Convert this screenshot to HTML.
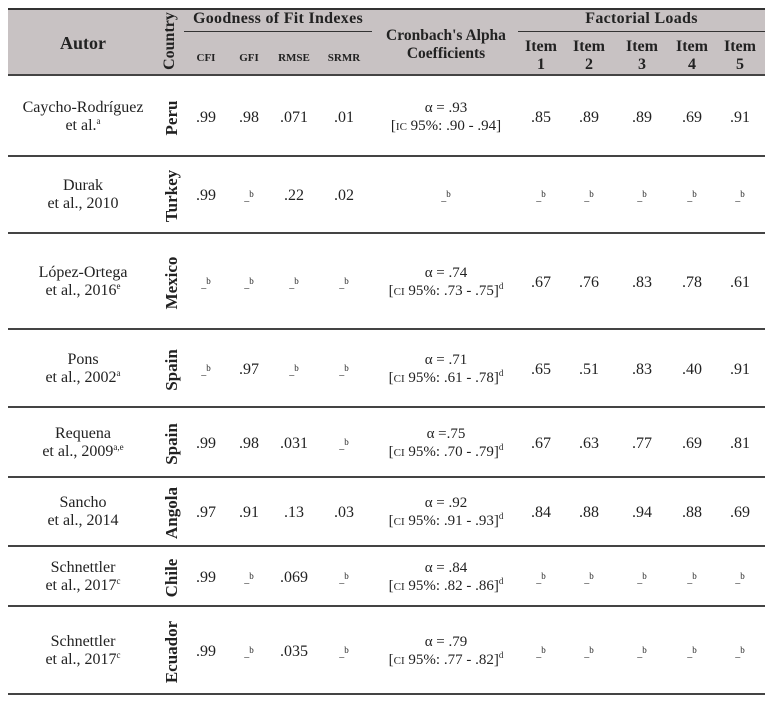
<!DOCTYPE html>
<html><head><meta charset="utf-8"><style>
body{margin:0;width:777px;height:702px;background:#fff;position:relative;font-family:"Liberation Serif","DejaVu Serif",serif;color:#222;overflow:hidden}
.a{position:absolute;text-align:center;white-space:nowrap}
.hd{position:absolute;left:8px;top:8px;width:757px;height:68px;background:#c8c2c3;border-top:2px solid #333;border-bottom:2px solid #444;box-sizing:border-box}
.ln{position:absolute;left:8px;width:757px;height:2px;background:#444}
.b{font-weight:bold}
.v{position:absolute;transform:translate(-50%,-50%) rotate(-90deg);font-weight:bold;font-size:17px;white-space:nowrap}
.s{font-size:16px}
sup{font-size:9px;line-height:0;vertical-align:6px}
.sc{font-size:11px}
.ub{font-size:10px}
.ub sup{vertical-align:3px}
</style></head><body>
<div class="hd"></div>
<div class="a b" style="left:8px;width:150px;top:33px;font-size:18px">Autor</div>
<div class="v" style="left:170px;top:41px;font-size:16px">Country</div>
<div class="a b" style="left:180px;width:196px;top:10px;font-size:16px;letter-spacing:0.3px">Goodness of Fit Indexes</div>
<div style="position:absolute;left:184px;width:188px;top:31px;height:1px;background:#333"></div>
<div class="a b" style="left:186px;width:40px;top:52px;font-size:11px">CFI</div>
<div class="a b" style="left:229px;width:40px;top:52px;font-size:11px">GFI</div>
<div class="a b" style="left:274px;width:40px;top:52px;font-size:11px">RMSE</div>
<div class="a b" style="left:324px;width:40px;top:52px;font-size:11px">SRMR</div>
<div class="a b" style="left:372px;width:148px;top:27px;font-size:15.5px;line-height:18px">Cronbach's Alpha<br>Coefficients</div>
<div class="a b" style="left:518px;width:247px;top:10px;font-size:16px;letter-spacing:0.3px">Factorial Loads</div>
<div style="position:absolute;left:518px;width:247px;top:31px;height:1px;background:#333"></div>
<div class="a b" style="left:518px;width:46px;top:38px;font-size:16px;line-height:18px">Item<br>1</div>
<div class="a b" style="left:566px;width:46px;top:38px;font-size:16px;line-height:18px">Item<br>2</div>
<div class="a b" style="left:619px;width:46px;top:38px;font-size:16px;line-height:18px">Item<br>3</div>
<div class="a b" style="left:669px;width:46px;top:38px;font-size:16px;line-height:18px">Item<br>4</div>
<div class="a b" style="left:717px;width:46px;top:38px;font-size:16px;line-height:18px">Item<br>5</div>

<div class="ln" style="top:155px"></div>
<div class="ln" style="top:232px"></div>
<div class="ln" style="top:328px"></div>
<div class="ln" style="top:406px"></div>
<div class="ln" style="top:476px"></div>
<div class="ln" style="top:545px"></div>
<div class="ln" style="top:605px"></div>
<div class="ln" style="top:693px"></div>

<div id="rows"></div>
<script>
var rows=[
[76,155,"Caycho-Rodríguez","et al.<sup>a</sup>","Peru",[".99",".98",".071",".01"],"α = .93","[<span class=sc>IC</span> 95%: .90 - .94]",[".85",".89",".89",".69",".91"]],
[156,232,"Durak","et al., 2010","Turkey",[".99","b",".22",".02"],"b","",["b","b","b","b","b"]],
[233,328,"López-Ortega","et al., 2016<sup>e</sup>","Mexico",["b","b","b","b"],"α = .74","[<span class=sc>CI</span> 95%: .73 - .75]<sup>d</sup>",[".67",".76",".83",".78",".61"]],
[329,406,"Pons","et al., 2002<sup>a</sup>","Spain",["b",".97","b","b"],"α = .71","[<span class=sc>CI</span> 95%: .61 - .78]<sup>d</sup>",[".65",".51",".83",".40",".91"]],
[407,476,"Requena","et al., 2009<sup>a,e</sup>","Spain",[".99",".98",".031","b"],"α =.75","[<span class=sc>CI</span> 95%: .70 - .79]<sup>d</sup>",[".67",".63",".77",".69",".81"]],
[477,545,"Sancho","et al., 2014","Angola",[".97",".91",".13",".03"],"α = .92","[<span class=sc>CI</span> 95%: .91 - .93]<sup>d</sup>",[".84",".88",".94",".88",".69"]],
[546,605,"Schnettler","et al., 2017<sup>c</sup>","Chile",[".99","b",".069","b"],"α = .84","[<span class=sc>CI</span> 95%: .82 - .86]<sup>d</sup>",["b","b","b","b","b"]],
[606,693,"Schnettler","et al., 2017<sup>c</sup>","Ecuador",[".99","b",".035","b"],"α = .79","[<span class=sc>CI</span> 95%: .77 - .82]<sup>d</sup>",["b","b","b","b","b"]]
];
var gx=[206,249,294,344],ix=[541,589,642,692,740],h="";
function cell(v,x,y){var t=v=="b"?"<span class='ub'>_<sup>b</sup></span>":v;return "<div class='a s' style='left:"+(x-30)+"px;width:60px;top:"+(y-10)+"px;line-height:20px'>"+t+"</div>";}
rows.forEach(function(r){var y=(r[0]+r[1])/2+2;
h+="<div class='a s' style='left:8px;width:150px;top:"+(y-19)+"px;line-height:18px'>"+r[2]+"<br>"+r[3]+"</div>";
h+="<div class='v' style='left:172px;top:"+y+"px'>"+r[4]+"</div>";
r[5].forEach(function(v,i){h+=cell(v,gx[i],y)});
if(r[7]) h+="<div class='a' style='font-size:15px;left:366px;width:160px;top:"+(y-19)+"px;line-height:18px'>"+r[6]+"<br>"+r[7]+"</div>";
else h+=cell(r[6],446,y);
r[8].forEach(function(v,i){h+=cell(v,ix[i],y)});
});
document.getElementById("rows").innerHTML=h;
</script>
</body></html>
